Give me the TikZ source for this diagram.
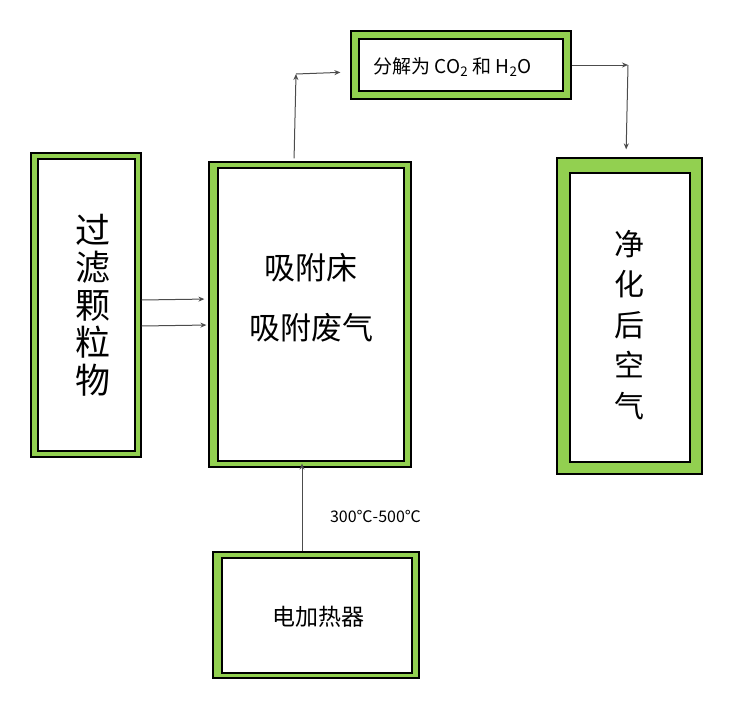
\documentclass[tikz,border=0pt]{standalone}
\usepackage{fontspec}
\setmainfont{Noto Sans CJK SC}
\usetikzlibrary{arrows.meta, positioning}
\definecolor{boxgreen}{HTML}{92D050}

\begin{document}
\begin{tikzpicture}[
  x=1pt, y=-1pt,
  outerbox/.style={draw=black, line width=1.2pt, fill=boxgreen, inner sep=0pt, anchor=center},
  innerbox/.style={draw=black, line width=1.2pt, fill=white, inner sep=0pt, anchor=center},
  flow/.style={-{Stealth[length=6pt, width=5pt]}, line width=1pt, draw=black!70},
]
\useasboundingbox (0,0) rectangle (729,702);
% Boxes: outer green frame, inner white panel
\foreach \nm/\cx/\cy/\ow/\oh/\icx/\icy/\iw/\ih in {
  filt/86/305/110/304/86.5/305/97/292,
  bed/310/314.5/202/305/311/314.5/186/293,
  dec/461/65/220/68/461/65/204/52,
  clean/629.5/316/145/316/630/317.5/120/289,
  heat/316/615/206/126/317/615.5/190/115%
}{
  \node[outerbox, minimum width=\ow pt, minimum height=\oh pt] (\nm) at (\cx,\cy) {};
  \node[innerbox, minimum width=\iw pt, minimum height=\ih pt] (\nm-in) at (\icx,\icy) {};
}
% Labels
\node[font=\fontsize{35}{37.5}\selectfont, align=center] (filt-txt) at (93,305) {过\\滤\\颗\\粒\\物};
\node[font=\fontsize{31}{60}\selectfont, align=center] (bed-txt) at (311,298) {吸附床\\吸附废气};
\node[font=\fontsize{19}{22}\selectfont] (dec-txt) at (452.5,67) {分解为 CO\textsubscript{2} 和 H\textsubscript{2}O};
\node[font=\fontsize{30}{40.5}\selectfont, align=center] (clean-txt) at (629,325) {净\\化\\后\\空\\气};
\node[font=\fontsize{23}{26}\selectfont] (heat-txt) at (318,617) {电加热器};
\node[font=\fontsize{16}{18}\selectfont] (temp) at (375.5,516) {300℃-500℃};
% Bend points
\coordinate (up) at (296,74);
\coordinate (rt) at (628,65);
% Connectors
\draw[flow, shorten >=4pt] (filt.east |- 0,300) -- (bed.west |- 0,299);
\draw[flow, shorten >=2pt] (filt.east |- 0,326) -- (bed.west |- 0,325);
\draw[flow, shorten <=3pt] (bed.north -| 294,0) -- (up);
\draw[flow, shorten >=10pt] (up) -- (dec.west |- 0,72);
\draw[flow] (dec.east) -- (rt);
\draw[flow, shorten >=8pt] (rt) -- (clean.north -| 626,0);
\draw[flow, shorten >=-4pt] (heat.north -| 302,0) -- (bed.south -| 302,0);
\end{tikzpicture}
\end{document}
